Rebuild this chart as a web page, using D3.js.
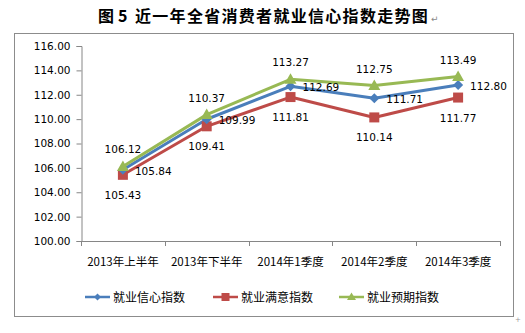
<!DOCTYPE html>
<html><head><meta charset="utf-8">
<script src="https://cdn.jsdelivr.net/npm/d3@7/dist/d3.min.js"></script>
<style>body{margin:0;background:#fff}svg{display:block}</style>
</head><body>
<svg id="c" width="525" height="333"></svg>
<script>
const categories = ["2013年上半年","2013年下半年","2014年1季度","2014年2季度","2014年3季度"];
const confidence = [105.84,109.99,112.69,111.71,112.80];
const satisfaction = [105.43,109.41,111.81,110.14,111.77];
const expectation = [106.12,110.37,113.27,112.75,113.49];
const seriesNames = ["就业信心指数","就业满意指数","就业预期指数"];
const yTicks = [100,102,104,106,108,110,112,114,116];

const svg = d3.select("#c");
const numFont = "'DejaVu Sans', Verdana, sans-serif";
const cjkFont = "'Noto Sans CJK SC', sans-serif";

// title
const title = svg.append("text").attr("y",22)
  .attr("font-family",cjkFont).attr("font-weight","bold").attr("font-size",16).attr("fill","#000");
title.append("tspan").attr("x",98).text("图");
title.append("tspan").attr("x",118).text("5");
title.append("tspan").attr("x",135).attr("letter-spacing",1.3).text("近一年全省消费者就业信心指数走势图");
svg.append("text").attr("x",431).attr("y",22).attr("font-family",numFont).attr("font-size",9)
  .attr("fill","#888").text("↵");

// frame
svg.append("rect").attr("x",14.5).attr("y",33.5).attr("width",499).attr("height",283)
  .attr("fill","#fff").attr("stroke","#8c8c8c").attr("stroke-width",1);

const x = d3.scaleBand().domain(categories).range([81,500]);
const y = d3.scaleLinear().domain([100,116]).range([241,46]);

// y axis
const yAxis = d3.axisLeft(y).tickValues(yTicks).tickFormat(d3.format(".2f")).tickSizeOuter(0).tickSize(5).tickPadding(6);
const gy = svg.append("g").attr("transform","translate(81.5,0)").call(yAxis);
gy.select(".domain").attr("stroke","#868686");
gy.selectAll(".tick line").attr("stroke","#868686");
gy.selectAll("text").attr("font-family",numFont).attr("font-size",10.5).attr("fill","#000");

// x axis
const boundaries = categories.map(c=>x(c)).concat([x.range()[1]]);
svg.append("line").attr("x1",81).attr("x2",500).attr("y1",241.5).attr("y2",241.5).attr("stroke","#868686");
svg.selectAll(".xt").data(boundaries).enter().append("line")
  .attr("x1",d=>Math.round(d)+0.5).attr("x2",d=>Math.round(d)+0.5).attr("y1",241).attr("y2",246).attr("stroke","#868686");
svg.selectAll(".xl").data(categories).enter().append("text")
  .attr("x",d=>x(d)+x.bandwidth()/2).attr("y",266).attr("text-anchor","middle")
  .attr("font-family",cjkFont).attr("font-size",11.5).attr("fill","#000").text(d=>d);

const series = [
  {name:seriesNames[0], values:confidence, color:"#4A7EBB", marker:"diamond", lab:"right"},
  {name:seriesNames[1], values:satisfaction, color:"#BE4B48", marker:"square", lab:"below"},
  {name:seriesNames[2], values:expectation, color:"#98B954", marker:"triangle", lab:"above"}
];
const cx = i => x(categories[i]) + x.bandwidth()/2;
const line = d3.line().x((d,i)=>cx(i)).y(d=>y(d));

function marker(g, type, color, px, py){
  if(type==="diamond"){
    g.append("path").attr("d",`M${px},${py-5}L${px+5},${py}L${px},${py+5}L${px-5},${py}Z`).attr("fill",color);
  } else if(type==="square"){
    g.append("rect").attr("x",px-5).attr("y",py-5).attr("width",10).attr("height",10).attr("fill",color);
  } else {
    g.append("path").attr("d",`M${px},${py-6}L${px+6},${py+4.5}L${px-6},${py+4.5}Z`).attr("fill",color);
  }
}

[series[1],series[0],series[2]].forEach(s=>{
  svg.append("path").datum(s.values).attr("d",line).attr("fill","none")
    .attr("stroke",s.color).attr("stroke-width",3).attr("stroke-linejoin","round");
});
[series[1],series[0],series[2]].forEach(s=>{
  const g = svg.append("g");
  s.values.forEach((v,i)=>marker(g,s.marker,s.color,cx(i),y(v)));
});

// data labels
series.forEach(s=>{
  s.values.forEach((v,i)=>{
    const px = cx(i), py = y(v);
    const t = svg.append("text").attr("font-family",numFont).attr("font-size",10.5).attr("fill","#000").text(v.toFixed(2));
    if(s.lab==="right") t.attr("x",px+12).attr("y",py+5).attr("text-anchor","start");
    else if(s.lab==="below") t.attr("x",px).attr("y",py+24).attr("text-anchor","middle");
    else t.attr("x",px).attr("y",py-13).attr("text-anchor","middle");
  });
});

// legend
const legX = [85,213,339];
series.forEach((s,i)=>{
  const lx = legX[i], ly = 297;
  const g = svg.append("g");
  g.append("line").attr("x1",lx).attr("x2",lx+25).attr("y1",ly).attr("y2",ly).attr("stroke",s.color).attr("stroke-width",2.5);
  const cxm = lx+12.5;
  if(s.marker==="diamond") g.append("path").attr("d",`M${cxm},${ly-3.5}L${cxm+3.5},${ly}L${cxm},${ly+3.5}L${cxm-3.5},${ly}Z`).attr("fill",s.color);
  else if(s.marker==="square") g.append("rect").attr("x",cxm-4).attr("y",ly-4).attr("width",8).attr("height",8).attr("fill",s.color);
  else g.append("path").attr("d",`M${cxm},${ly-4.5}L${cxm+4.5},${ly+3}L${cxm-4.5},${ly+3}Z`).attr("fill",s.color);
  g.append("text").attr("x",lx+28).attr("y",ly+4.5).attr("font-family",cjkFont).attr("font-size",12)
    .attr("fill","#000").text(s.name);
});
svg.append("text").attr("x",515).attr("y",322).attr("font-family",numFont).attr("font-size",7).attr("fill","#999").text("+");
</script>
</body></html>
